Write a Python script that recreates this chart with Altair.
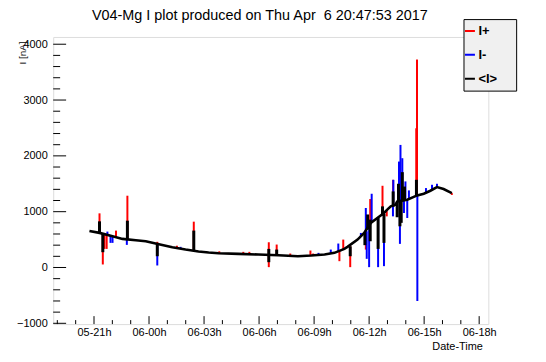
import altair as alt
import pandas as pd

# ---- data (hours relative to 2017-04-06 00:00 UTC) ----
base_hours = [-3.25, -2.70, -1.99, -1.45, -0.72, -0.18, 0.54, 1.27, 1.99, 2.70, 3.25, 3.79,
              4.87, 5.96, 7.05, 8.12, 8.84, 9.57, 10.11, 10.65, 10.82, 11.37, 11.73, 12.09,
              12.45, 12.81, 12.99, 13.18, 13.44, 13.54, 14.08, 14.62, 14.98, 15.34, 15.70,
              16.06, 16.51]
base_vals = [655, 620, 560, 512, 488, 470, 417, 363, 321, 286, 268, 256,
             244, 232, 220, 202, 214, 232, 262, 333, 369, 500, 619, 797,
             887, 976, 1036, 1095, 1125, 1184, 1214, 1292, 1321, 1375, 1440,
             1405, 1333]

plus_hours = [-2.70, -2.52, -2.43, -2.31, -1.80, -1.18, 0.45, 1.52, 2.44, 3.83, 5.14, 5.47,
              6.53, 6.53, 6.96, 7.70, 8.80, 8.95, 10.38, 10.59, 10.97, 11.82, 12.06, 12.73,
              12.96, 13.31, 14.57, 14.61, 16.51]
plus_from = [620, 600, 600, 590, 545, 500, 425, 355, 300, 256, 240, 238,
             228, 228, 225, 215, 212, 214, 300, 330, 380, 640, 780, 930,
             1010, 1090, 1280, 1280, 1333]
plus_to = [970, 54, 333, 333, 661, 1286, 460, 390, 821, 290, 280, 280,
           452, 6, 411, 250, 304, 250, 113, 500, 6, 321, 1226, 1464,
           916, 1571, 2494, 3726, 1300]

minus_hours = [-2.27, -2.10, -1.99, -1.21, 0.45, 1.72, 9.24, 9.91, 10.32, 11.55, 11.82, 11.87,
               12.00, 12.14, 12.49, 12.81, 13.32, 13.30, 13.63, 13.68, 13.71, 13.81, 13.90,
               13.98, 14.08, 14.17, 14.63, 15.10, 15.43, 15.70]
minus_from = [585, 575, 560, 505, 425, 340, 225, 245, 290, 560, 640, 650,
              720, 800, 890, 960, 1100, 1100, 1190, 1190, 1190, 1200, 1205,
              1210, 1214, 1220, 1285, 1330, 1380, 1440]
minus_to = [643, 441, 441, 405, 36, 370, 262, 321, 429, 619, 1066, 155,
            6, 1321, 6, 24, 1571, 916, 1898, 423, 2196, 1958, 976,
            1542, 887, 1381, -601, 1423, 1482, 1500]

mean_hours = [-2.70, -2.52, -1.18, 0.45, 2.44, 6.53, 6.53, 6.96, 10.97, 11.77, 11.92, 12.06,
              12.06, 12.49, 12.73, 12.81, 13.31, 13.53, 13.60, 13.68, 13.75, 13.81, 13.93, 14.58]
mean_from = [620, 600, 500, 425, 300, 228, 228, 225, 380, 630, 680, 780,
             780, 890, 930, 960, 1090, 1180, 1185, 1190, 1195, 1200, 1205, 1280]
mean_to = [827, 274, 839, 202, 661, 333, 95, 321, 202, 400, 950, 857,
           470, 333, 1095, 441, 1363, 900, 1500, 738, 800, 1708, 1450, 1571]

series_names = ["I+", "I-", "<I>"]
series_colors = ["#ff0000", "#0000ff", "#000000"]

x_major_hours = [-3, 0, 3, 6, 9, 12, 15, 18]
x_minor_hours = [-5, -4, -2, -1, 1, 2, 4, 5, 7, 8, 10, 11, 13, 14, 16, 17]
y_major = [-1000, 0, 1000, 2000, 3000, 4000]
y_minor = [v for v in range(-800, 4000, 200) if v % 1000 != 0]
x_range_hours = [-5.225, 18.50]
y_range = [-1014, 4130]

title_text = "V04-Mg I plot produced on Thu Apr\u00a0 6 20:47:53 2017"

# ---- tables ----
T0 = int(pd.Timestamp("2017-04-06T00:00:00Z").value // 10**6)
H = 3600 * 1000


def ms(h):
    return T0 + h * H


base_df = pd.DataFrame({"t": [ms(h) for h in base_hours], "v": base_vals})
spk = []
for name, hs, fr, to in [("I+", plus_hours, plus_from, plus_to),
                         ("I-", minus_hours, minus_from, minus_to),
                         ("<I>", mean_hours, mean_from, mean_to)]:
    for h, a, b in zip(hs, fr, to):
        spk.append({"t": ms(h), "v": a, "v2": b, "s": name,
                    "w": 3 if name == "<I>" else 2})
spk_df = pd.DataFrame(spk)

xmaj_df = pd.DataFrame({"t": [ms(h) for h in x_major_hours]})
xmin_df = pd.DataFrame({"t": [ms(h) for h in x_minor_hours]})
ymaj_df = pd.DataFrame({"v": y_major})
ymin_df = pd.DataFrame({"v": y_minor})

W, HGT = 438, 289
FONT = "Liberation Sans"

xscale = alt.Scale(type="utc", domain=[ms(x_range_hours[0]), ms(x_range_hours[1])])
yscale = alt.Scale(domain=y_range, nice=False, zero=False)

xaxis = alt.Axis(values=[ms(h) for h in x_major_hours],
                 labelExpr="utcFormat(datum.value, '%d-%Hh')",
                 tickSize=0, domain=False, grid=False, labelFontSize=11, labelPadding=3,
                 labelFont=FONT, labelColor="black",
                 title="Date-Time", titleFont=FONT, titleFontSize=11, titleFontWeight="normal",
                 titleX=432, titleY=26, titleAlign="right", titleBaseline="alphabetic",
                 titleColor="black")
yaxis = alt.Axis(values=y_major, format="d", tickSize=0, domain=False, grid=False,
                 labelFontSize=11, labelPadding=6, labelFont=FONT, labelColor="black",
                 title="I [nA]", titleFont=FONT, titleFontSize=10, titleFontWeight="normal",
                 titleX=-26, titleY=4, titleAlign="right", titleAngle=-90, titleColor="black")

X = alt.X("t:T", scale=xscale, axis=xaxis)
Y = alt.Y("v:Q", scale=yscale, axis=yaxis)

spikes = alt.Chart(spk_df).mark_rule().encode(
    x=X,
    y=Y,
    y2="v2:Q",
    strokeWidth=alt.StrokeWidth("w:Q", scale=None, legend=None),
    color=alt.Color("s:N", scale=alt.Scale(domain=series_names, range=series_colors),
                    legend=alt.Legend(orient="none", legendX=413, legendY=-18,
                                      fillColor="#f0f0f0", strokeColor="black", padding=0,
                                      symbolType="stroke", symbolSize=100, symbolStrokeWidth=2,
                                      labelFont=FONT, labelFontSize=13, labelFontWeight="bold",
                                      labelColor="black", labelOffset=2,
                                      clipHeight=24, rowPadding=0,
                                      title="xx", titleOrient="right", titleOpacity=0,
                                      titleFontSize=10, titlePadding=7)),
)

line = alt.Chart(base_df).mark_line(color="black", strokeWidth=2.6).encode(x=X, y=Y)

xmaj = alt.Chart(xmaj_df).mark_rule(color="black", strokeWidth=1).encode(
    x=X, y=alt.value(HGT), y2=alt.value(HGT - 8))
xmin = alt.Chart(xmin_df).mark_rule(color="black", strokeWidth=1).encode(
    x=X, y=alt.value(HGT), y2=alt.value(HGT - 4))
ymaj = alt.Chart(ymaj_df).mark_rule(color="black", strokeWidth=1).encode(
    y=Y, x=alt.value(0), x2=alt.value(13))
ymin = alt.Chart(ymin_df).mark_rule(color="black", strokeWidth=1).encode(
    y=Y, x=alt.value(0), x2=alt.value(7))

chart = alt.layer(spikes, line, xmaj, xmin, ymaj, ymin).properties(
    width=W, height=HGT,
    autosize=alt.AutoSizeParams(type="none"),
    padding={"left": 45.5, "top": 28, "right": 50, "bottom": 37},
    title=alt.TitleParams(text=title_text, font=FONT, fontSize=14.5, fontWeight="normal",
                          anchor="middle", dx=-11, dy=18, offset=2, baseline="alphabetic",
                          color="black"),
).configure_view(stroke="black", strokeWidth=1).configure(background="white")

chart.save("out.html", embed_options={"renderer": "svg", "actions": False})
